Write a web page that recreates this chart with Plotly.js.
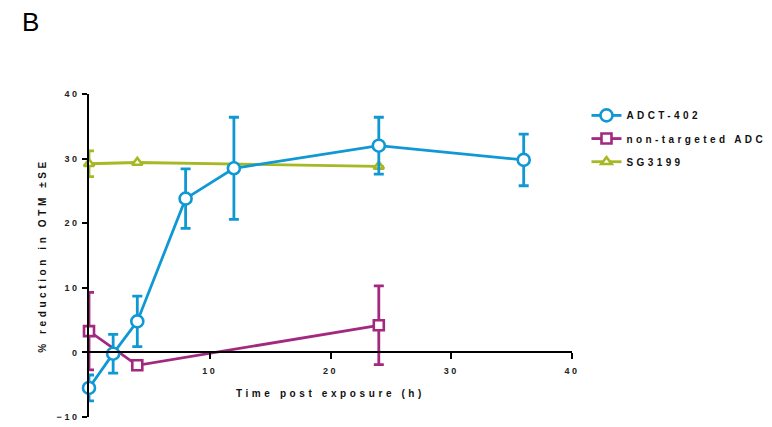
<!DOCTYPE html>
<html><head><meta charset="utf-8">
<script src="https://cdn.plot.ly/plotly-3.0.1.min.js"></script>
<style>
html,body{margin:0;padding:0;background:#fff;}
#chart .main-svg .xtick text, #chart .main-svg .ytick text{letter-spacing:2.6px;}
#chart .main-svg .g-xtitle text, #chart .main-svg .g-ytitle text{letter-spacing:3.6px;}
#chart .main-svg text.legendtext{letter-spacing:3.4px; font-size:10px !important; transform:translateY(-2px);}
</style>
</head><body>
<div id="chart" style="width:772px;height:427px;"></div>
<script>
// Data
const timeADCT = [0, 2, 4, 8, 12, 24, 36];
const valADCT  = [-5.5, -0.2, 4.8, 23.8, 28.5, 32.0, 29.8];
const errADCT  = [2.0, 3.0, 3.9, 4.6, 7.9, 4.4, 4.0];

const timeNT = [0, 4, 24];
const valNT  = [3.3, -2.0, 4.2];
const errNT  = [6.0, 0, 6.1];

const timeSG = [0, 4, 24];
const valSG  = [29.2, 29.4, 28.8];
const errSG  = [2.0, 0, 0];

const names = ['ADCT-402', 'non-targeted ADC', 'SG3199'];
const xTicks = [10, 20, 30, 40];
const yTicks = [-10, 0, 10, 20, 30, 40];

const cBlue = '#1098d4', cPurple = '#a3287f', cGreen = '#a6b823';
const FAM = 'Liberation Sans, Arial, sans-serif';

function tr(x, y, e, name, color, symbol, size) {
  return {
    x: x, y: y, name: name, type: 'scatter', mode: 'lines+markers',
    line: {color: color, width: 2.8},
    marker: {symbol: symbol, size: size, color: '#fff', line: {color: color, width: 2.6}},
    error_y: {type: 'data', array: e, visible: true, color: color, thickness: 2.8, width: 5},
    cliponaxis: false
  };
}

const data = [
  tr(timeSG, valSG, errSG, names[2], cGreen, 'triangle-up', 9),
  tr(timeNT, valNT, errNT, names[1], cPurple, 'square', 10),
  tr(timeADCT, valADCT, errADCT, names[0], cBlue, 'circle', 12)
];

const layout = {
  width: 772, height: 427,
  margin: {l: 89, r: 200, t: 94, b: 10, autoexpand: false},
  paper_bgcolor: '#fff', plot_bgcolor: '#fff',
  font: {family: FAM, size: 9, color: '#222'},
  showlegend: true,
  legend: {x: 1.03, y: 0.985, xanchor: 'left', yanchor: 'top', traceorder: 'reversed',
           font: {family: FAM, size: 15.5, color: '#111', weight: 'bold'},
           itemwidth: 30, bgcolor: 'rgba(0,0,0,0)'},
  xaxis: {
    range: [0, 40], anchor: 'free', position: 0.2,
    showline: true, linecolor: '#000', linewidth: 2,
    showgrid: false, zeroline: false,
    tickvals: xTicks, ticks: 'outside', ticklen: 6, tickwidth: 2, tickcolor: '#000',
    ticklabelstandoff: 4,
    tickfont: {family: FAM, size: 9, color: '#222', weight: 'bold'},
    title: {text: 'Time post exposure (h)', standoff: 14,
            font: {family: FAM, size: 10, color: '#111', weight: 'bold'}}
  },
  yaxis: {
    range: [-10, 40],
    showline: true, linecolor: '#000', linewidth: 2.5,
    showgrid: false, zeroline: false,
    tickvals: yTicks, ticks: 'outside', ticklen: 5, tickwidth: 2, tickcolor: '#000',
    tickfont: {family: FAM, size: 9, color: '#222', weight: 'bold'},
    title: {text: '% reduction in OTM ±SE', standoff: 16,
            font: {family: FAM, size: 10, color: '#111', weight: 'bold'}}
  },
  annotations: [{
    text: 'B', xref: 'paper', yref: 'paper', x: -0.122, y: 1.223,
    xanchor: 'center', yanchor: 'middle', showarrow: false,
    font: {family: FAM, size: 26, color: '#000'}
  }]
};

Plotly.newPlot('chart', data, layout, {displayModeBar: false, staticPlot: true}).then(gd => {
  gd.querySelectorAll('.infolayer [clip-path]').forEach(el => el.removeAttribute('clip-path'));
});
</script>
</body></html>
